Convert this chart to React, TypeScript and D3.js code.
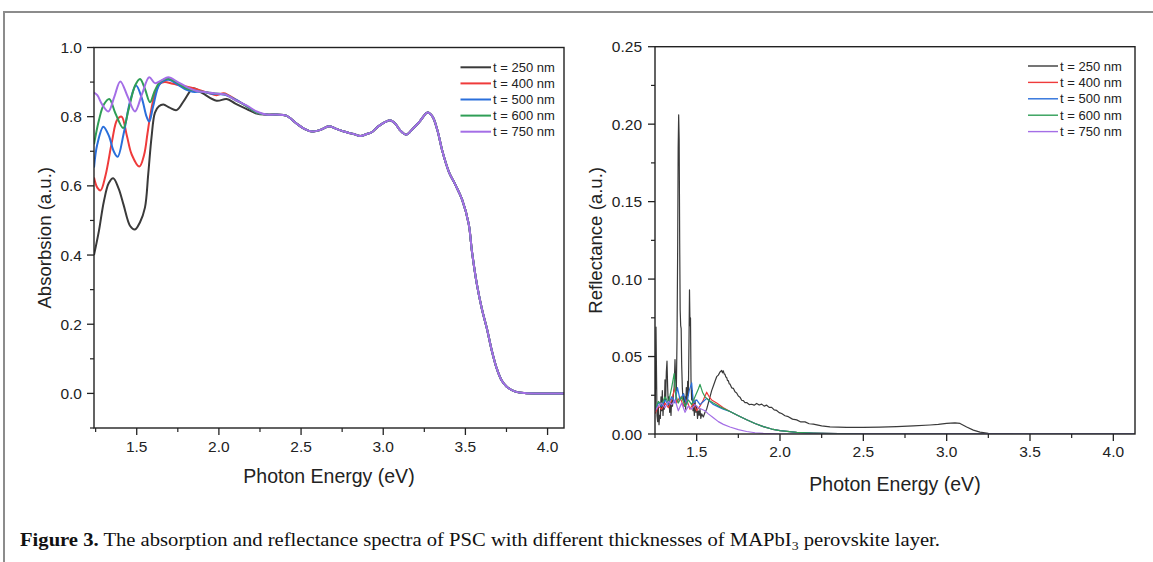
import React from "react";
import * as d3 from "d3";

// ---------- DATA ----------
const seriesLabels = ["t = 250 nm", "t = 400 nm", "t = 500 nm", "t = 600 nm", "t = 750 nm"];
const seriesColors = ["#3a3a3a", "#ef3b3b", "#2a6fdb", "#2f9e56", "#a46ee6"];

// Absorption: per-thickness low-energy part [eV, a.u.]
const abs250: [number, number][] = [
  [1.24, 0.4], [1.27, 0.47], [1.3, 0.555], [1.33, 0.608], [1.357, 0.622], [1.39, 0.592], [1.42, 0.545],
  [1.46, 0.484], [1.489, 0.474], [1.52, 0.495], [1.55, 0.537], [1.57, 0.634], [1.59, 0.74], [1.611, 0.812],
  [1.635, 0.83], [1.662, 0.835], [1.7, 0.826], [1.743, 0.819], [1.79, 0.848], [1.845, 0.882], [1.9, 0.868],
  [1.986, 0.846], [2.047, 0.851], [2.1, 0.838], [2.17, 0.822], [2.23, 0.809],
];
const abs400: [number, number][] = [
  [1.24, 0.624], [1.26, 0.595], [1.28, 0.587], [1.31, 0.63], [1.35, 0.73], [1.38, 0.79], [1.408, 0.8],
  [1.44, 0.745], [1.47, 0.69], [1.516, 0.656], [1.545, 0.69], [1.565, 0.75], [1.581, 0.8], [1.61, 0.865],
  [1.641, 0.895], [1.67, 0.9], [1.72, 0.895], [1.8, 0.887], [1.86, 0.88], [1.93, 0.87], [1.986, 0.862],
  [2.03, 0.868], [2.1, 0.85], [2.17, 0.83], [2.23, 0.812],
];
const abs500: [number, number][] = [
  [1.24, 0.653], [1.26, 0.72], [1.297, 0.771], [1.33, 0.745], [1.36, 0.7], [1.384, 0.684], [1.42, 0.75],
  [1.46, 0.845], [1.496, 0.89], [1.53, 0.855], [1.56, 0.8], [1.576, 0.786], [1.6, 0.83], [1.641, 0.895],
  [1.692, 0.907], [1.75, 0.893], [1.8, 0.878], [1.84, 0.872], [1.9, 0.872], [1.96, 0.866], [2.03, 0.864],
  [2.1, 0.85], [2.17, 0.83], [2.23, 0.812],
];
const abs600: [number, number][] = [
  [1.24, 0.72], [1.27, 0.79], [1.3, 0.835], [1.333, 0.851], [1.37, 0.81], [1.418, 0.767], [1.45, 0.82],
  [1.49, 0.89], [1.52, 0.909], [1.55, 0.88], [1.581, 0.842], [1.61, 0.875], [1.641, 0.9], [1.69, 0.91],
  [1.75, 0.897], [1.8, 0.882], [1.86, 0.875], [1.93, 0.87], [2.0, 0.866], [2.04, 0.864], [2.1, 0.848],
  [2.17, 0.83], [2.23, 0.812],
];
const abs750: [number, number][] = [
  [1.24, 0.87], [1.26, 0.862], [1.29, 0.835], [1.327, 0.815], [1.364, 0.858], [1.4, 0.902], [1.445, 0.858],
  [1.489, 0.815], [1.532, 0.865], [1.576, 0.914], [1.611, 0.897], [1.65, 0.905], [1.692, 0.914], [1.75, 0.9],
  [1.8, 0.887], [1.86, 0.875], [1.93, 0.87], [2.0, 0.866], [2.04, 0.864], [2.1, 0.848], [2.17, 0.832],
  [2.23, 0.815],
];
// Absorption: shared high-energy part (all thicknesses coincide)
const absTail: [number, number][] = [
  [2.29, 0.806], [2.35, 0.806], [2.41, 0.803], [2.47, 0.781], [2.52, 0.765], [2.57, 0.757], [2.62, 0.762],
  [2.67, 0.772], [2.72, 0.764], [2.76, 0.757], [2.82, 0.75], [2.86, 0.744], [2.9, 0.75], [2.93, 0.755],
  [2.97, 0.772], [3.01, 0.784], [3.04, 0.79], [3.07, 0.782], [3.1, 0.762], [3.14, 0.748], [3.18, 0.765],
  [3.22, 0.785], [3.27, 0.812], [3.3, 0.8], [3.33, 0.76], [3.36, 0.7], [3.4, 0.64], [3.44, 0.602],
  [3.48, 0.56], [3.52, 0.49], [3.54, 0.41], [3.57, 0.315], [3.6, 0.245], [3.63, 0.189], [3.66, 0.125],
  [3.69, 0.073], [3.72, 0.038], [3.75, 0.02], [3.8, 0.006], [3.86, 0.001], [3.95, 0.0], [4.1, 0.0],
];

// Reflectance [eV, a.u.]
const ref250: [number, number][] = [
  [1.25, 0.015], [1.253, 0.03], [1.256, 0.069], [1.259, 0.04], [1.262, 0.012], [1.266, 0.008], [1.27, 0.018],
  [1.274, 0.006], [1.278, 0.012], [1.282, 0.01], [1.286, 0.024], [1.29, 0.015], [1.294, 0.028], [1.298, 0.012],
  [1.302, 0.02], [1.306, 0.016], [1.31, 0.035], [1.314, 0.022], [1.318, 0.04], [1.322, 0.047], [1.326, 0.03],
  [1.33, 0.018], [1.334, 0.024], [1.338, 0.014], [1.342, 0.02], [1.346, 0.012], [1.35, 0.022], [1.355, 0.018],
  [1.36, 0.025], [1.365, 0.03], [1.37, 0.048], [1.374, 0.035], [1.378, 0.028], [1.382, 0.06], [1.386, 0.12],
  [1.389, 0.185], [1.392, 0.206], [1.395, 0.19], [1.398, 0.125], [1.401, 0.08], [1.404, 0.07], [1.407, 0.068],
  [1.41, 0.045], [1.414, 0.03], [1.418, 0.022], [1.422, 0.026], [1.426, 0.018], [1.43, 0.024], [1.434, 0.016],
  [1.438, 0.03], [1.442, 0.02], [1.446, 0.034], [1.45, 0.025], [1.454, 0.06], [1.457, 0.093], [1.46, 0.07],
  [1.463, 0.075], [1.466, 0.035], [1.47, 0.022], [1.474, 0.028], [1.478, 0.015], [1.482, 0.02], [1.486, 0.012],
  [1.49, 0.022], [1.495, 0.014], [1.5, 0.018], [1.505, 0.01], [1.51, 0.015], [1.515, 0.012], [1.52, 0.016],
  [1.525, 0.01], [1.53, 0.013], [1.54, 0.011], [1.55, 0.014], [1.56, 0.016], [1.57, 0.02], [1.58, 0.024],
  [1.59, 0.028], [1.6, 0.031], [1.61, 0.034], [1.62, 0.037], [1.63, 0.038], [1.64, 0.04], [1.65, 0.041],
  [1.655, 0.0395], [1.66, 0.0408], [1.665, 0.0388], [1.67, 0.0385], [1.675, 0.0368], [1.68, 0.0365],
  [1.685, 0.0345], [1.69, 0.0345], [1.695, 0.0325], [1.7, 0.0322], [1.71, 0.0298], [1.72, 0.0295],
  [1.73, 0.0272], [1.74, 0.0265], [1.75, 0.0245], [1.76, 0.0238], [1.77, 0.0218], [1.78, 0.0215],
  [1.79, 0.0202], [1.8, 0.0203], [1.815, 0.019], [1.83, 0.0192], [1.845, 0.0186], [1.86, 0.0197],
  [1.875, 0.0187], [1.89, 0.0193], [1.905, 0.018], [1.92, 0.0186], [1.935, 0.0172], [1.95, 0.0172],
  [1.965, 0.0156], [1.98, 0.0152], [1.995, 0.0138], [2.01, 0.0132], [2.03, 0.0118], [2.05, 0.0112],
  [2.075, 0.0096], [2.1, 0.0091], [2.125, 0.0078], [2.15, 0.0078], [2.175, 0.0066], [2.2, 0.0064],
  [2.25, 0.0053], [2.3, 0.0046], [2.4, 0.0043], [2.5, 0.0043], [2.6, 0.0045], [2.7, 0.0048], [2.8, 0.0052],
  [2.9, 0.0058], [2.95, 0.0062], [3.0, 0.0068], [3.05, 0.0072], [3.08, 0.0068], [3.12, 0.0045], [3.16, 0.0025],
  [3.2, 0.0012], [3.25, 0.0005], [3.3, 0.0002], [3.4, 0.0],
];
const ref400: [number, number][] = [
  [1.25, 0.013], [1.27, 0.018], [1.29, 0.016], [1.31, 0.02], [1.33, 0.017], [1.35, 0.022], [1.37, 0.03],
  [1.38, 0.02], [1.4, 0.024], [1.42, 0.018], [1.44, 0.022], [1.46, 0.016], [1.48, 0.02], [1.5, 0.015],
  [1.52, 0.018], [1.54, 0.022], [1.56, 0.027], [1.575, 0.024], [1.59, 0.022], [1.62, 0.02], [1.66, 0.017],
  [1.7, 0.0145], [1.75, 0.0118], [1.8, 0.0092], [1.85, 0.0068], [1.9, 0.0048], [1.95, 0.0032], [2.0, 0.0022],
  [2.1, 0.0011], [2.2, 0.0006], [2.35, 0.0002], [2.5, 0.0], [4.13, 0.0],
];
const ref500: [number, number][] = [
  [1.25, 0.015], [1.27, 0.02], [1.29, 0.018], [1.31, 0.022], [1.33, 0.019], [1.35, 0.024], [1.37, 0.02],
  [1.385, 0.03], [1.4, 0.022], [1.42, 0.026], [1.44, 0.019], [1.455, 0.028], [1.47, 0.033], [1.48, 0.02],
  [1.5, 0.022], [1.52, 0.019], [1.54, 0.021], [1.56, 0.023], [1.58, 0.021], [1.6, 0.019], [1.63, 0.0175],
  [1.66, 0.016], [1.7, 0.0145], [1.75, 0.0118], [1.8, 0.0092], [1.85, 0.0068], [1.9, 0.0048], [1.95, 0.0032],
  [2.0, 0.0022], [2.1, 0.0011], [2.2, 0.0006], [2.35, 0.0002], [2.5, 0.0], [4.13, 0.0],
];
const ref600: [number, number][] = [
  [1.25, 0.016], [1.27, 0.021], [1.29, 0.019], [1.31, 0.024], [1.33, 0.02], [1.35, 0.03], [1.365, 0.039],
  [1.375, 0.025], [1.39, 0.02], [1.41, 0.024], [1.43, 0.018], [1.45, 0.022], [1.47, 0.019], [1.49, 0.024],
  [1.51, 0.029], [1.52, 0.032], [1.535, 0.027], [1.55, 0.024], [1.57, 0.022], [1.6, 0.02], [1.64, 0.0175],
  [1.7, 0.0145], [1.75, 0.0118], [1.8, 0.0092], [1.85, 0.0068], [1.9, 0.0048], [1.95, 0.0032], [2.0, 0.0022],
  [2.1, 0.0011], [2.2, 0.0006], [2.35, 0.0002], [2.5, 0.0], [4.13, 0.0],
];
const ref750: [number, number][] = [
  [1.25, 0.015], [1.27, 0.018], [1.29, 0.02], [1.31, 0.017], [1.33, 0.021], [1.35, 0.019], [1.37, 0.022],
  [1.39, 0.015], [1.41, 0.02], [1.43, 0.014], [1.45, 0.018], [1.47, 0.016], [1.49, 0.019], [1.51, 0.017],
  [1.53, 0.016], [1.55, 0.015], [1.57, 0.013], [1.6, 0.0105], [1.63, 0.008], [1.66, 0.0062], [1.7, 0.0045],
  [1.75, 0.0028], [1.8, 0.0016], [1.85, 0.0008], [1.9, 0.0004], [2.0, 0.0], [4.13, 0.0],
];

const energyTicks = [1.5, 2.0, 2.5, 3.0, 3.5, 4.0];
const energyMinor = [1.25, 1.75, 2.25, 2.75, 3.25, 3.75];
const absTicks = [0.0, 0.2, 0.4, 0.6, 0.8, 1.0];
const absMinor = [-0.1, 0.1, 0.3, 0.5, 0.7, 0.9];
const refTicks = [0.0, 0.05, 0.1, 0.15, 0.2, 0.25];
const refMinor = [0.025, 0.075, 0.125, 0.175, 0.225];

// ---------- CHART ----------
const FONT = "'Liberation Sans', Arial, Helvetica, sans-serif";
const AX = "#222";

type Panel = {
  x0: number; x1: number; y0: number; y1: number;
  xDom: [number, number]; yDom: [number, number];
};

function Axes({ p, xs, ys, yTicks, yMinor, yFmt, yLabelX, xLabelY, yTitle, yTitleX, xTitleY }: any) {
  return (
    <g>
      <rect x={p.x0} y={p.y0} width={p.x1 - p.x0} height={p.y1 - p.y0} fill="none" stroke={AX} strokeWidth={1.4} />
      {energyTicks.map((t) => (
        <g key={"xt" + t}>
          <line x1={xs(t)} x2={xs(t)} y1={p.y1} y2={p.y1 + 7} stroke={AX} strokeWidth={1.3} />
          <text x={xs(t)} y={xLabelY} textAnchor="middle" fontFamily={FONT} fontSize={15.5} fill="#222">
            {t.toFixed(1)}
          </text>
        </g>
      ))}
      {energyMinor.map((t) => (
        <line key={"xm" + t} x1={xs(t)} x2={xs(t)} y1={p.y1} y2={p.y1 + 4} stroke={AX} strokeWidth={1.2} />
      ))}
      {yTicks.map((t: number) => (
        <g key={"yt" + t}>
          <line x1={p.x0 - 7} x2={p.x0} y1={ys(t)} y2={ys(t)} stroke={AX} strokeWidth={1.3} />
          <text x={yLabelX} y={ys(t) + 5.5} textAnchor="end" fontFamily={FONT} fontSize={15.5} fill="#222">
            {yFmt(t)}
          </text>
        </g>
      ))}
      {yMinor.map((t: number) => (
        <line key={"ym" + t} x1={p.x0 - 4} x2={p.x0} y1={ys(t)} y2={ys(t)} stroke={AX} strokeWidth={1.2} />
      ))}
      <text x={(p.x0 + p.x1) / 2} y={xTitleY} textAnchor="middle" fontFamily={FONT} fontSize={19.5} fill="#222">
        Photon Energy (eV)
      </text>
      <text
        transform={`translate(${yTitleX},${(p.y0 + p.y1) / 2}) rotate(-90)`}
        textAnchor="middle" fontFamily={FONT} fontSize={18.6} fill="#222"
      >
        {yTitle}
      </text>
    </g>
  );
}

function Legend({ x, y, dy, len, width }: any) {
  return (
    <g>
      {seriesLabels.map((s, i) => (
        <g key={s}>
          <line x1={x} x2={x + len} y1={y + i * dy} y2={y + i * dy} stroke={seriesColors[i]} strokeWidth={width} />
          <text x={x + len + 2} y={y + i * dy + 4.6} fontFamily={FONT} fontSize={13} fill="#222">{s}</text>
        </g>
      ))}
    </g>
  );
}

export default function App() {
  // Left: absorption
  const L: Panel = { x0: 94, x1: 564, y0: 47.5, y1: 428, xDom: [1.24, 4.1], yDom: [-0.1, 1.0] };
  const lx = d3.scaleLinear().domain(L.xDom).range([L.x0, L.x1]);
  const ly = d3.scaleLinear().domain(L.yDom).range([L.y1, L.y0]);
  const absLine = d3.line<[number, number]>().x((d) => lx(d[0])).y((d) => ly(d[1])).curve(d3.curveCatmullRom.alpha(0.5));
  const absSeries = [abs250, abs400, abs500, abs600, abs750].map((h) => h.concat(absTail));

  // Right: reflectance
  const R: Panel = { x0: 655, x1: 1135, y0: 46.7, y1: 434, xDom: [1.25, 4.13], yDom: [0, 0.25] };
  const rx = d3.scaleLinear().domain(R.xDom).range([R.x0, R.x1]);
  const ry = d3.scaleLinear().domain(R.yDom).range([R.y1, R.y0]);
  const refLine = d3.line<[number, number]>().x((d) => rx(d[0])).y((d) => ry(d[1]));
  const refSeries = [ref250, ref400, ref500, ref600, ref750];

  return (
    <svg width={1153} height={562} style={{ position: "absolute", left: 0, top: 0, background: "#fff" }}>
      <rect x={0} y={0} width={1153} height={562} fill="#fff" />
      <path d="M4,562 V12 H1153" fill="none" stroke="#8c8c8c" strokeWidth={2} />

      <defs>
        <clipPath id="clipL"><rect x={L.x0} y={L.y0} width={L.x1 - L.x0} height={L.y1 - L.y0} /></clipPath>
        <clipPath id="clipR"><rect x={R.x0} y={R.y0 - 2} width={R.x1 - R.x0} height={R.y1 - R.y0 + 2} /></clipPath>
      </defs>

      <g clipPath="url(#clipL)">
        {absSeries.map((s, i) => (
          <path key={i} d={absLine(s) || ""} fill="none" stroke={seriesColors[i]} strokeWidth={2} strokeLinejoin="round" />
        ))}
      </g>
      <Axes p={L} xs={lx} ys={ly} yTicks={absTicks} yMinor={absMinor} yFmt={(t: number) => t.toFixed(1)}
        yLabelX={82} xLabelY={452} yTitle="Absorbsion (a.u.)" yTitleX={51} xTitleY={483} />
      <Legend x={460.5} y={67.3} dy={16.1} len={30.5} width={2} />

      <g clipPath="url(#clipR)">
        {refSeries.map((s, i) => (
          <path key={i} d={refLine(s) || ""} fill="none" stroke={seriesColors[i]} strokeWidth={1.2} strokeLinejoin="round" />
        ))}
      </g>
      <Axes p={R} xs={rx} ys={ry} yTicks={refTicks} yMinor={refMinor} yFmt={(t: number) => t.toFixed(2)}
        yLabelX={642} xLabelY={457} yTitle="Reflectance (a.u.)" yTitleX={602} xTitleY={491} />
      <Legend x={1028} y={66} dy={16.4} len={30} width={1.4} />

      <text x={20} y={546} fontFamily="'Liberation Serif', 'Times New Roman', serif" fontSize={18} fill="#111"
        textLength={920} lengthAdjust="spacingAndGlyphs">
        <tspan fontWeight="bold">Figure 3.</tspan>
        <tspan> The absorption and reflectance spectra of PSC with different thicknesses of MAPbI</tspan>
        <tspan fontSize={12} dy={4}>3</tspan>
        <tspan dy={-4}> perovskite layer.</tspan>
      </text>
    </svg>
  );
}
